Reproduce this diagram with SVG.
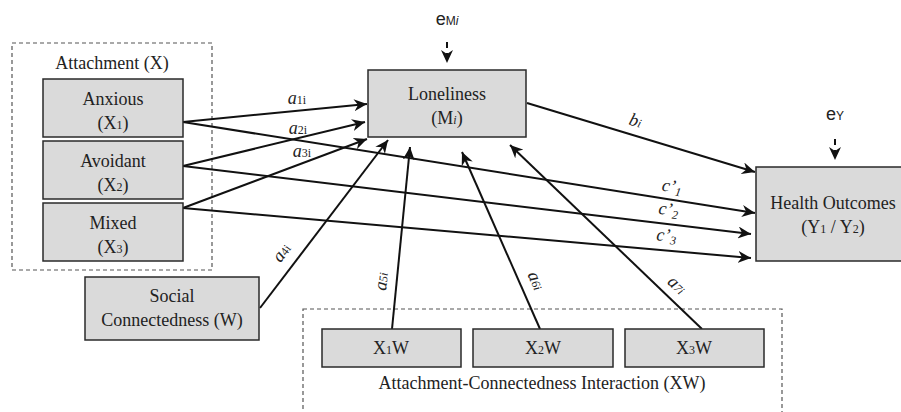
<svg xmlns="http://www.w3.org/2000/svg" width="901" height="412" viewBox="0 0 901 412">
<defs>
<style>
.box{fill:#dadada;stroke:#2a2a2a;stroke-width:1.5}
.grp{fill:none;stroke:#555;stroke-width:1.2;stroke-dasharray:4 3}
.t{font-family:"Liberation Serif","Times New Roman",serif;font-size:18px;fill:#222;text-anchor:middle}
.lab{font-family:"Liberation Serif","Times New Roman",serif;font-size:18px;fill:#222;font-style:italic;text-anchor:middle}
.sub{font-size:12px}
.e{font-family:"Liberation Sans",Arial,sans-serif;font-size:18px;fill:#222;text-anchor:middle}
.c{fill:none;stroke:#111;stroke-width:2}
.d{fill:none;stroke:#111;stroke-width:2;stroke-dasharray:6 5}
</style>
<marker id="ah" markerUnits="userSpaceOnUse" markerWidth="14" markerHeight="12" refX="13" refY="6" orient="auto">
<path d="M0,0 L13,6 L0,12 L4,6 Z" fill="#111"/>
</marker>
</defs>
<rect width="901" height="412" fill="#fff"/>

<g id="attachment-group">
<rect class="grp" x="12" y="43" width="200" height="227"/>
<text class="t" x="112" y="69">Attachment (X)</text>
</g>
<g id="interaction-group">
<rect class="grp" x="303" y="309" width="479" height="110"/>
<text class="t" x="542" y="389">Attachment-Connectedness Interaction (XW)</text>
</g>

<g id="connectors">
<line class="c" x1="183" y1="122" x2="367" y2="104" marker-end="url(#ah)"/>
<line class="c" x1="183" y1="166" x2="365" y2="122" marker-end="url(#ah)"/>
<line class="c" x1="183" y1="208" x2="367" y2="139" marker-end="url(#ah)"/>
<line class="c" x1="260" y1="308" x2="388" y2="140" marker-end="url(#ah)"/>
<line class="c" x1="392" y1="329" x2="410" y2="147" marker-end="url(#ah)"/>
<line class="c" x1="540" y1="329" x2="462" y2="152" marker-end="url(#ah)"/>
<line class="c" x1="702" y1="329" x2="510" y2="145" marker-end="url(#ah)"/>
<line class="c" x1="527" y1="103" x2="755" y2="172" marker-end="url(#ah)"/>
<line class="c" x1="183" y1="122" x2="755" y2="213" marker-end="url(#ah)"/>
<line class="c" x1="183" y1="166" x2="751" y2="234" marker-end="url(#ah)"/>
<line class="c" x1="183" y1="208" x2="751" y2="258" marker-end="url(#ah)"/>
<line class="d" x1="447" y1="42" x2="447" y2="63" marker-end="url(#ah)"/>
<line class="d" x1="835" y1="139" x2="835" y2="160" marker-end="url(#ah)"/>

<text class="lab" x="297" y="104">a<tspan class="sub" font-style="normal">1i</tspan></text>
<text class="lab" x="298" y="134">a<tspan class="sub" font-style="normal">2i</tspan></text>
<text class="lab" x="302" y="157">a<tspan class="sub" font-style="normal">3i</tspan></text>
<text class="lab" transform="translate(286,256) rotate(-53)">a<tspan class="sub" font-style="normal">4i</tspan></text>
<text class="lab" transform="translate(387,282) rotate(-84)">a<tspan class="sub">5i</tspan></text>
<text class="lab" transform="translate(531,283) rotate(66)">a<tspan class="sub">6i</tspan></text>
<text class="lab" transform="translate(673,289) rotate(44)">a<tspan class="sub">7i</tspan></text>
<text class="lab" transform="translate(634,126) rotate(17)">b<tspan class="sub">i</tspan></text>
<text class="lab" transform="translate(671,192) rotate(9)">c’<tspan class="sub" dy="3">1</tspan></text>
<text class="lab" transform="translate(668,215) rotate(7)">c’<tspan class="sub" dy="3">2</tspan></text>
<text class="lab" transform="translate(666,241) rotate(5)">c’<tspan class="sub" dy="3">3</tspan></text>
</g>

<g id="anxious">
<rect class="box" x="43" y="79" width="140" height="58"/>
<text class="t" x="113" y="105">Anxious</text>
<text class="t" x="113" y="129">(X<tspan class="sub">1</tspan>)</text>
</g>
<g id="avoidant">
<rect class="box" x="43" y="141" width="140" height="58"/>
<text class="t" x="113" y="167">Avoidant</text>
<text class="t" x="113" y="191">(X<tspan class="sub">2</tspan>)</text>
</g>
<g id="mixed">
<rect class="box" x="43" y="203" width="140" height="58"/>
<text class="t" x="113" y="229">Mixed</text>
<text class="t" x="113" y="253">(X<tspan class="sub">3</tspan>)</text>
</g>
<g id="social">
<rect class="box" x="85" y="277" width="174" height="63"/>
<text class="t" x="172" y="302">Social</text>
<text class="t" x="172" y="326">Connectedness (W)</text>
</g>
<g id="loneliness">
<rect class="box" x="368" y="70" width="158" height="67"/>
<text class="t" x="447" y="100">Loneliness</text>
<text class="t" x="447" y="124">(M<tspan class="sub" font-style="italic">i</tspan>)</text>
<text class="e" x="447" y="25">e<tspan font-size="12px">M</tspan><tspan font-size="12px" font-style="italic">i</tspan></text>
</g>
<g id="health">
<rect class="box" x="756" y="167" width="150" height="94"/>
<text class="t" x="833" y="209">Health Outcomes</text>
<text class="t" x="833" y="233">(Y<tspan class="sub">1</tspan> / Y<tspan class="sub">2</tspan>)</text>
<text class="e" x="835" y="120">e<tspan font-size="12px">Y</tspan></text>
</g>
<g id="x1w">
<rect class="box" x="322" y="329" width="139" height="38"/>
<text class="t" x="391" y="354">X<tspan class="sub">1</tspan>W</text>
</g>
<g id="x2w">
<rect class="box" x="473" y="329" width="140" height="38"/>
<text class="t" x="543" y="354">X<tspan class="sub">2</tspan>W</text>
</g>
<g id="x3w">
<rect class="box" x="625" y="329" width="139" height="38"/>
<text class="t" x="694" y="354">X<tspan class="sub">3</tspan>W</text>
</g>
</svg>
